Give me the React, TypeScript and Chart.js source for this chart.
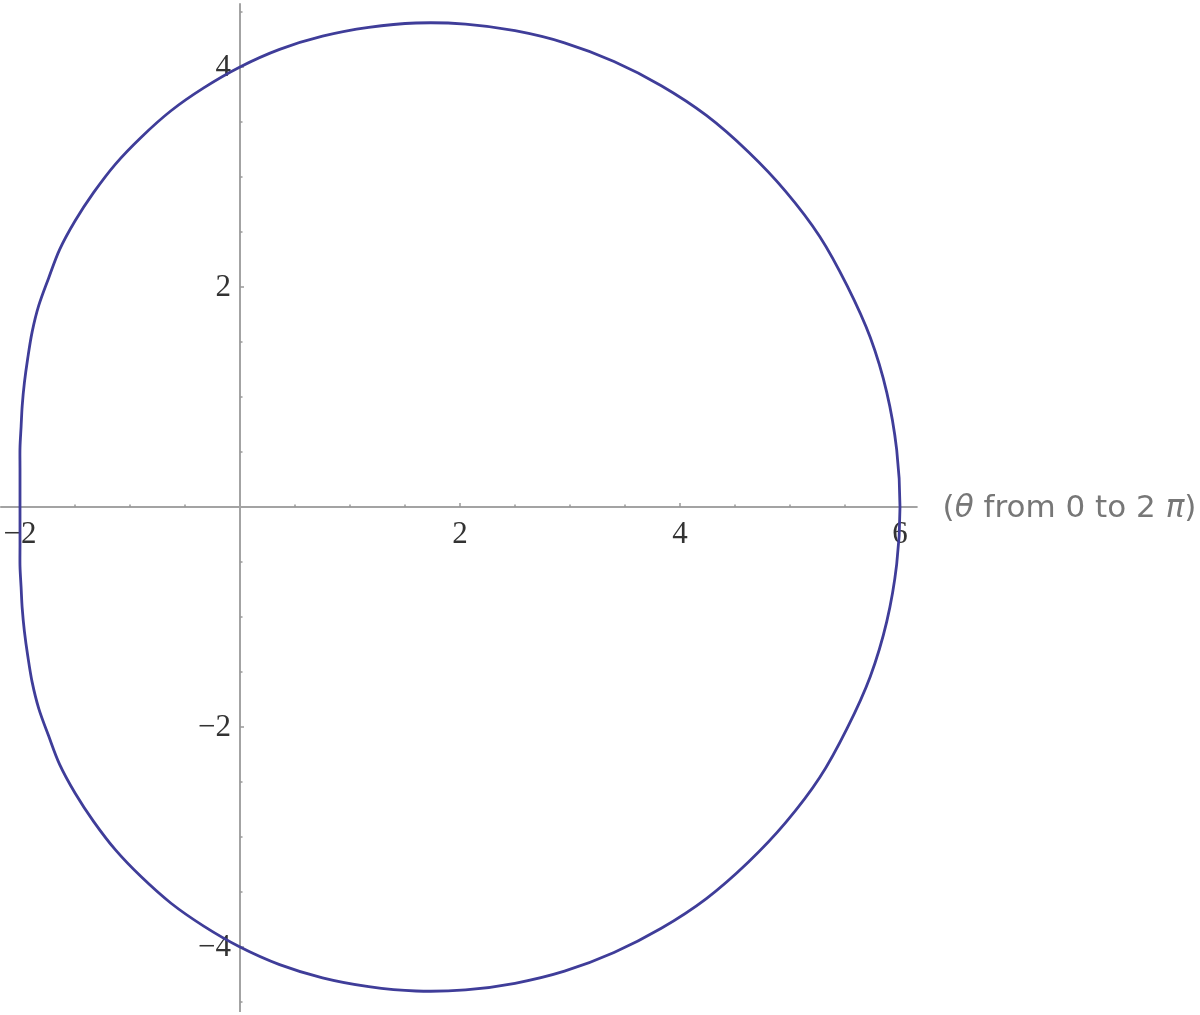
import { useEffect, useRef } from "react";
import { Chart, registerables } from "chart.js";

Chart.register(...registerables);

// points, starting at the left edge, round the bottom, then back over the top
const curveX = [
  -2.0, -2.0, -2.0, -2.0, -1.99, -1.98, -1.96, -1.93, -1.89, -1.83, -1.74, -1.64, -1.5, -1.33, -1.13, -0.9, -0.63,
  -0.33, 0.0, 0.36, 0.75, 1.17, 1.6, 2.05, 2.5, 2.95, 3.4, 3.83, 4.24, 4.62, 4.96, 5.27, 5.52, 5.73, 5.88, 5.97, 6.0,
  5.97, 5.88, 5.73, 5.52, 5.27, 4.96, 4.62, 4.24, 3.83, 3.4, 2.95, 2.5, 2.05, 1.6, 1.17, 0.75, 0.36, 0.0, -0.33,
  -0.63, -0.9, -1.13, -1.33, -1.5, -1.64, -1.74, -1.83, -1.89, -1.93, -1.96, -1.98, -1.99, -2.0, -2.0, -2.0, -2.0,
];
const curveY = [
  0, -0.18, -0.35, -0.54, -0.73, -0.92, -1.13, -1.35, -1.59, -1.83, -2.08, -2.34, -2.6, -2.86, -3.12, -3.36, -3.6,
  -3.81, -4.0, -4.16, -4.28, -4.36, -4.4, -4.39, -4.33, -4.22, -4.05, -3.83, -3.56, -3.23, -2.87, -2.46, -2.01,
  -1.54, -1.04, -0.52, 0, 0.52, 1.04, 1.54, 2.01, 2.46, 2.87, 3.23, 3.56, 3.83, 4.05, 4.22, 4.33, 4.39, 4.4, 4.36,
  4.28, 4.16, 4.0, 3.81, 3.6, 3.36, 3.12, 2.86, 2.6, 2.34, 2.08, 1.83, 1.59, 1.35, 1.13, 0.92, 0.73, 0.54, 0.35,
  0.18, 0,
];

const xTickLabels = [-2, 2, 4, 6];
const yTickLabels = [-4, -2, 2, 4];
const xAxisRange = [-2.18, 6.16];
const yAxisRange = [-4.59, 4.58];
const minorStep = 0.5;

const fmt = (v: number) => (v < 0 ? "\u2212" + Math.abs(v) : String(v));

const axesPlugin = {
  id: "mmaAxes",
  beforeDatasetsDraw(chart: Chart) {
    const { ctx } = chart;
    const sx = chart.scales.x;
    const sy = chart.scales.y;
    const x0 = Math.round(sx.getPixelForValue(0));
    const y0 = Math.round(sy.getPixelForValue(0));
    ctx.save();
    ctx.strokeStyle = "#a3a3a3";
    ctx.lineWidth = 2;
    ctx.beginPath();
    ctx.moveTo(sx.getPixelForValue(xAxisRange[0]), y0);
    ctx.lineTo(sx.getPixelForValue(xAxisRange[1]), y0);
    ctx.moveTo(x0, sy.getPixelForValue(yAxisRange[0]));
    ctx.lineTo(x0, sy.getPixelForValue(yAxisRange[1]));
    ctx.stroke();

    // tick marks, small like Mathematica's
    ctx.strokeStyle = "#999999";
    ctx.lineWidth = 1.5;
    ctx.beginPath();
    for (let v = Math.ceil(xAxisRange[0] / minorStep) * minorStep; v <= xAxisRange[1]; v += minorStep) {
      if (Math.abs(v) < 1e-9) continue;
      const px = sx.getPixelForValue(v);
      const len = Math.abs(v % 2) < 1e-9 ? 4 : 2.5;
      ctx.moveTo(px, y0);
      ctx.lineTo(px, y0 - len);
    }
    for (let v = Math.ceil(yAxisRange[0] / minorStep) * minorStep; v <= yAxisRange[1]; v += minorStep) {
      if (Math.abs(v) < 1e-9) continue;
      const py = sy.getPixelForValue(v);
      const len = Math.abs(v % 2) < 1e-9 ? 4 : 2.5;
      ctx.moveTo(x0, py);
      ctx.lineTo(x0 + len, py);
    }
    ctx.stroke();

    // tick labels
    ctx.fillStyle = "#333333";
    ctx.font = '31px "Liberation Serif"';
    ctx.textAlign = "center";
    ctx.textBaseline = "middle";
    xTickLabels.forEach((v) => {
      ctx.fillText(fmt(v), sx.getPixelForValue(v), y0 + 28);
    });
    ctx.textAlign = "right";
    yTickLabels.forEach((v) => {
      ctx.fillText(fmt(v), x0 - 9, sy.getPixelForValue(v) + 1);
    });

    // axis label
    ctx.fillStyle = "#777777";
    ctx.textAlign = "left";
    const parts: [string, boolean][] = [
      ["(", false],
      ["\u03b8", true],
      [" from 0 to 2 ", false],
      ["\u03c0", true],
      [")", false],
    ];
    let lx = sx.getPixelForValue(xAxisRange[1]) + 25;
    parts.forEach(([t, it]) => {
      ctx.font = (it ? "italic " : "") + '31px "DejaVu Sans"';
      ctx.fillText(t, lx, y0 + 2);
      lx += ctx.measureText(t).width;
    });
    ctx.restore();
  },
};

export default function App() {
  const canvasRef = useRef<HTMLCanvasElement>(null);
  const chartRef = useRef<Chart | null>(null);

  useEffect(() => {
    if (!canvasRef.current) return;
    chartRef.current?.destroy();
    const ctx = canvasRef.current.getContext("2d");
    if (!ctx) return;

    chartRef.current = new Chart(ctx, {
      type: "scatter",
      data: {
        datasets: [
          {
            data: curveX.map((x, i) => ({ x, y: curveY[i] })),
            showLine: true,
            borderColor: "#3f3d99",
            borderWidth: 2.8,
            pointRadius: 0,
            tension: 0.33,
            fill: false,
          },
        ],
      },
      options: {
        animation: false,
        responsive: false,
        layout: { padding: 0 },
        elements: { line: { capBezierPoints: false } },
        scales: {
          x: { type: "linear", min: -240 / 110, max: 960 / 110, display: false },
          y: { type: "linear", min: -508 / 110, max: 507 / 110, display: false },
        },
        plugins: { legend: { display: false }, tooltip: { enabled: false } },
      },
      plugins: [axesPlugin],
    });

    return () => {
      chartRef.current?.destroy();
      chartRef.current = null;
    };
  }, []);

  return (
    <div style={{ position: "fixed", left: 0, top: 0, width: 1200, height: 1015, background: "#fff" }}>
      <canvas ref={canvasRef} width={1200} height={1015} />
    </div>
  );
}
